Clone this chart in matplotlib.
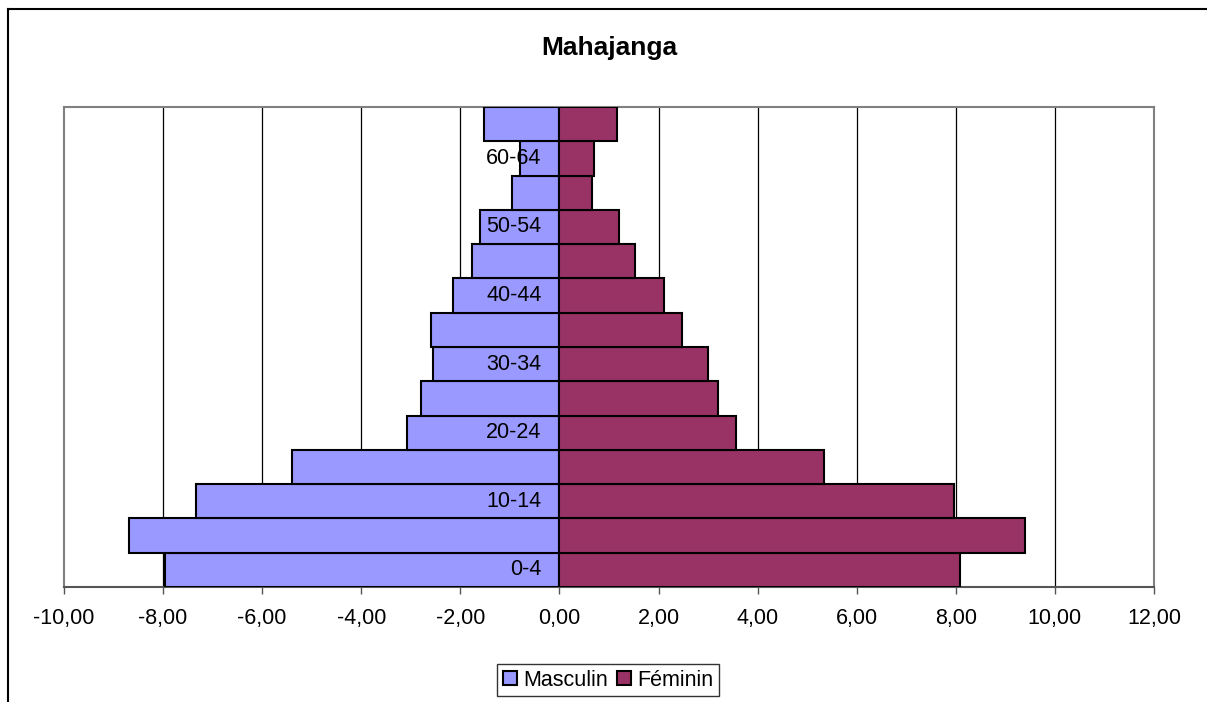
import matplotlib.pyplot as plt
from matplotlib.lines import Line2D
from matplotlib.patches import Patch
import numpy as np

plt.rcParams['font.family'] = ['Liberation Sans', 'DejaVu Sans']

# Data
age_groups = ['0-4', '5-9', '10-14', '15-19', '20-24', '25-29', '30-34',
              '35-39', '40-44', '45-49', '50-54', '55-59', '60-64', '65+']
masculin = [-7.97, -8.68, -7.34, -5.39, -3.08, -2.79, -2.55,
            -2.60, -2.14, -1.76, -1.61, -0.96, -0.80, -1.53]
feminin = [8.09, 9.39, 7.96, 5.34, 3.56, 3.20, 3.00,
           2.47, 2.10, 1.53, 1.21, 0.65, 0.70, 1.16]
x_ticks = np.arange(-10, 13, 2)

col_m = '#9999FF'
col_f = '#993366'

fig = plt.figure(figsize=(12.07, 7.02), dpi=100)
ax = fig.add_axes([64/1207, 1 - 587/702, 1090/1207, 480/702])

y = np.arange(len(age_groups))
ax.barh(y, masculin, height=1.0, color=col_m, edgecolor='black', linewidth=1.5, zorder=3)
ax.barh(y, feminin, height=1.0, color=col_f, edgecolor='black', linewidth=1.5, zorder=3)

ax.set_xlim(-10, 12)
ax.set_ylim(-0.5, len(age_groups) - 0.5)

# vertical gridlines
for xv in x_ticks[1:-1]:
    ax.axvline(xv, color='black', linewidth=0.9, zorder=1)

ax.set_xticks(x_ticks)
ax.set_xticklabels([f'{v:.2f}'.replace('.', ',') for v in x_ticks], fontsize=15.5)
ax.tick_params(axis='x', direction='out', length=5, width=1, color='#555555', pad=10)
ax.set_yticks([])

for side in ['top', 'right', 'left', 'bottom']:
    ax.spines[side].set_color('#808080')
    ax.spines[side].set_linewidth(1.5)
ax.spines['bottom'].set_color('#555555')

# category labels next to the axis (every other one)
for i, lab in enumerate(age_groups):
    if i % 2 == 0:
        ax.annotate(lab, xy=(0, i), xytext=(-13, 0), textcoords='offset points',
                    ha='right', va='center', fontsize=15.5, zorder=5)

fig.text(609/1207, 1 - 48/702, 'Mahajanga', ha='center', va='center',
         fontsize=19, fontweight='bold')

handles = [Patch(facecolor=col_m, edgecolor='black', linewidth=1.5),
           Patch(facecolor=col_f, edgecolor='black', linewidth=1.5)]
leg = fig.legend(handles, ['Masculin', 'Féminin'], loc='center',
                 bbox_to_anchor=(608/1207, 1 - 680/702), ncol=2, fontsize=15.5,
                 frameon=True, fancybox=False, handlelength=0.65, handleheight=0.65,
                 handletextpad=0.3, columnspacing=0.4, borderpad=0.25,
                 borderaxespad=0)
leg.get_frame().set_edgecolor('black')
leg.get_frame().set_linewidth(1.0)

# chart area border (left and top edges visible)
fig.add_artist(Line2D([8/1207, 8/1207], [0, 1 - 9/702], color='black', linewidth=1.5))
fig.add_artist(Line2D([8/1207, 1], [1 - 9/702, 1 - 9/702], color='black', linewidth=1.5))

plt.savefig('out.png', dpi=100)
